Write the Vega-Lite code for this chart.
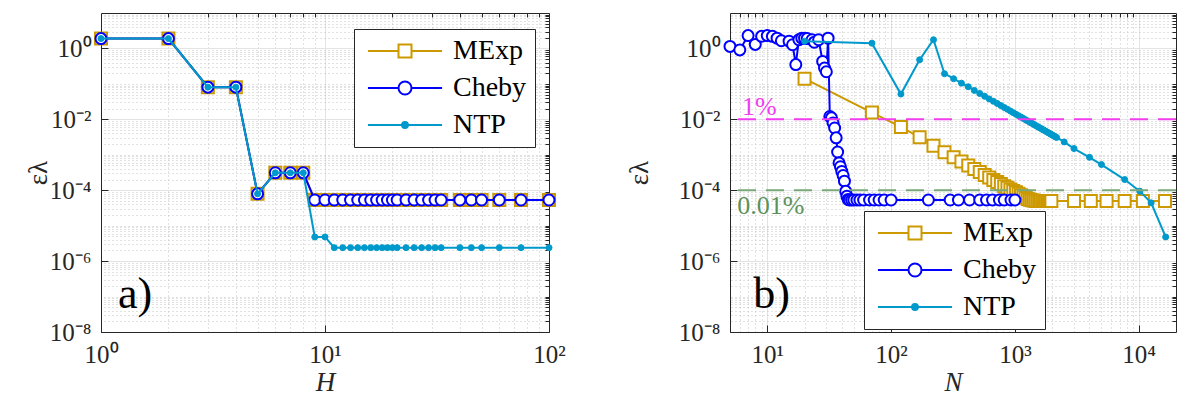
{
  "$schema": "https://vega.github.io/schema/vega-lite/v6.json",
  "padding": {"left": 24, "top": 12, "right": 0, "bottom": 0},
  "background": "white",
  "spacing": 59,
  "resolve": {"scale": {"stroke": "independent"}, "legend": {"stroke": "independent"}},
  "config": {
    "font": "Liberation Serif",
    "view": {"stroke": null},
    "axis": {
      "domainColor": "#262626", "tickColor": "#262626", "labelColor": "#262626",
      "labelFont": "Liberation Serif", "labelFontSize": 25, "titleFont": "Liberation Serif",
      "titleFontWeight": "normal", "titleColor": "#262626", "titleFontSize": 27,
      "gridColor": "#e3e3e3", "gridWidth": 1, "domainWidth": 1, "labelFlush": false, "labelOverlap": false
    },
    "legend": {
      "labelFont": "Liberation Serif", "labelFontSize": 28, "labelColor": "#000000",
      "strokeColor": "#262626", "fillColor": "white", "cornerRadius": 0, "symbolFillColor": "white"
    }
  },
  "datasets": {
    "a": [
      {"s":"MExp","x":1,"y":1.9},{"s":"MExp","x":2,"y":1.9},{"s":"MExp","x":3,"y":0.081},{"s":"MExp","x":4,"y":0.081},{"s":"MExp","x":5,"y":7.9e-5},{"s":"MExp","x":6,"y":3.1e-4},{"s":"MExp","x":7,"y":3.1e-4},{"s":"MExp","x":8,"y":3.1e-4},{"s":"MExp","x":9,"y":5.3e-5},{"s":"MExp","x":10,"y":5.3e-5},{"s":"MExp","x":11,"y":5.3e-5},{"s":"MExp","x":12,"y":5.3e-5},{"s":"MExp","x":13,"y":5.3e-5},{"s":"MExp","x":14,"y":5.3e-5},{"s":"MExp","x":15,"y":5.3e-5},{"s":"MExp","x":16,"y":5.3e-5},{"s":"MExp","x":17,"y":5.3e-5},{"s":"MExp","x":18,"y":5.3e-5},{"s":"MExp","x":19,"y":5.3e-5},{"s":"MExp","x":20,"y":5.3e-5},{"s":"MExp","x":21,"y":5.3e-5},{"s":"MExp","x":23,"y":5.3e-5},{"s":"MExp","x":25,"y":5.3e-5},{"s":"MExp","x":27,"y":5.3e-5},{"s":"MExp","x":29,"y":5.3e-5},{"s":"MExp","x":31,"y":5.3e-5},{"s":"MExp","x":33,"y":5.3e-5},{"s":"MExp","x":40,"y":5.3e-5},{"s":"MExp","x":45,"y":5.3e-5},{"s":"MExp","x":50,"y":5.3e-5},{"s":"MExp","x":60,"y":5.3e-5},{"s":"MExp","x":75,"y":5.3e-5},{"s":"MExp","x":100,"y":5.3e-5},
      {"s":"Cheby","x":1,"y":1.9},{"s":"Cheby","x":2,"y":1.9},{"s":"Cheby","x":3,"y":0.081},{"s":"Cheby","x":4,"y":0.081},{"s":"Cheby","x":5,"y":7.9e-5},{"s":"Cheby","x":6,"y":3.1e-4},{"s":"Cheby","x":7,"y":3.1e-4},{"s":"Cheby","x":8,"y":3.1e-4},{"s":"Cheby","x":9,"y":5.3e-5},{"s":"Cheby","x":10,"y":5.3e-5},{"s":"Cheby","x":11,"y":5.3e-5},{"s":"Cheby","x":12,"y":5.3e-5},{"s":"Cheby","x":13,"y":5.3e-5},{"s":"Cheby","x":14,"y":5.3e-5},{"s":"Cheby","x":15,"y":5.3e-5},{"s":"Cheby","x":16,"y":5.3e-5},{"s":"Cheby","x":17,"y":5.3e-5},{"s":"Cheby","x":18,"y":5.3e-5},{"s":"Cheby","x":19,"y":5.3e-5},{"s":"Cheby","x":20,"y":5.3e-5},{"s":"Cheby","x":21,"y":5.3e-5},{"s":"Cheby","x":23,"y":5.3e-5},{"s":"Cheby","x":25,"y":5.3e-5},{"s":"Cheby","x":27,"y":5.3e-5},{"s":"Cheby","x":29,"y":5.3e-5},{"s":"Cheby","x":31,"y":5.3e-5},{"s":"Cheby","x":33,"y":5.3e-5},{"s":"Cheby","x":40,"y":5.3e-5},{"s":"Cheby","x":45,"y":5.3e-5},{"s":"Cheby","x":50,"y":5.3e-5},{"s":"Cheby","x":60,"y":5.3e-5},{"s":"Cheby","x":75,"y":5.3e-5},{"s":"Cheby","x":100,"y":5.3e-5},
      {"s":"NTP","x":1,"y":1.9},{"s":"NTP","x":2,"y":1.9},{"s":"NTP","x":3,"y":0.081},{"s":"NTP","x":4,"y":0.081},{"s":"NTP","x":5,"y":7.9e-5},{"s":"NTP","x":6,"y":3.1e-4},{"s":"NTP","x":7,"y":3.1e-4},{"s":"NTP","x":8,"y":3.1e-4},{"s":"NTP","x":9,"y":4.8e-6},{"s":"NTP","x":10,"y":4.8e-6},{"s":"NTP","x":11,"y":2.4e-6},{"s":"NTP","x":12,"y":2.4e-6},{"s":"NTP","x":13,"y":2.4e-6},{"s":"NTP","x":14,"y":2.4e-6},{"s":"NTP","x":15,"y":2.4e-6},{"s":"NTP","x":16,"y":2.4e-6},{"s":"NTP","x":17,"y":2.4e-6},{"s":"NTP","x":18,"y":2.4e-6},{"s":"NTP","x":19,"y":2.4e-6},{"s":"NTP","x":20,"y":2.4e-6},{"s":"NTP","x":21,"y":2.4e-6},{"s":"NTP","x":23,"y":2.4e-6},{"s":"NTP","x":25,"y":2.4e-6},{"s":"NTP","x":27,"y":2.4e-6},{"s":"NTP","x":29,"y":2.4e-6},{"s":"NTP","x":31,"y":2.4e-6},{"s":"NTP","x":33,"y":2.4e-6},{"s":"NTP","x":40,"y":2.4e-6},{"s":"NTP","x":45,"y":2.4e-6},{"s":"NTP","x":50,"y":2.4e-6},{"s":"NTP","x":60,"y":2.4e-6},{"s":"NTP","x":75,"y":2.4e-6},{"s":"NTP","x":100,"y":2.4e-6}
    ],
    "b": [
      {"s":"MExp","x":20,"y":0.14},{"s":"MExp","x":70,"y":0.0155},{"s":"MExp","x":120,"y":0.0061},{"s":"MExp","x":170,"y":0.0031},{"s":"MExp","x":220,"y":0.0018},{"s":"MExp","x":270,"y":0.00118},{"s":"MExp","x":320,"y":0.00085},{"s":"MExp","x":370,"y":0.00065},{"s":"MExp","x":420,"y":0.0005},{"s":"MExp","x":470,"y":0.0004},{"s":"MExp","x":520,"y":0.000325},{"s":"MExp","x":570,"y":0.00027},{"s":"MExp","x":620,"y":0.00023},{"s":"MExp","x":670,"y":0.000195},{"s":"MExp","x":720,"y":0.00017},{"s":"MExp","x":770,"y":0.00015},{"s":"MExp","x":820,"y":0.00013},{"s":"MExp","x":870,"y":0.000117},{"s":"MExp","x":920,"y":0.000105},{"s":"MExp","x":970,"y":0.000095},{"s":"MExp","x":1020,"y":0.000087},{"s":"MExp","x":1070,"y":0.000079},{"s":"MExp","x":1120,"y":0.000072},{"s":"MExp","x":1170,"y":0.000066},{"s":"MExp","x":1220,"y":0.000061},{"s":"MExp","x":1270,"y":0.000057},{"s":"MExp","x":1320,"y":0.000054},{"s":"MExp","x":1370,"y":0.000052},{"s":"MExp","x":1420,"y":0.000051},{"s":"MExp","x":1470,"y":0.00005},{"s":"MExp","x":1520,"y":0.00005},{"s":"MExp","x":1570,"y":0.00005},{"s":"MExp","x":1620,"y":0.00005},{"s":"MExp","x":1670,"y":0.00005},{"s":"MExp","x":1720,"y":0.00005},{"s":"MExp","x":1770,"y":0.00005},{"s":"MExp","x":1820,"y":0.00005},{"s":"MExp","x":1870,"y":0.00005},{"s":"MExp","x":1920,"y":0.00005},{"s":"MExp","x":1970,"y":0.00005},{"s":"MExp","x":3000,"y":0.00005},{"s":"MExp","x":4100,"y":0.00005},{"s":"MExp","x":5500,"y":0.00005},{"s":"MExp","x":7700,"y":0.00005},{"s":"MExp","x":10800,"y":0.00005},{"s":"MExp","x":16300,"y":0.00005},
      {"s":"Cheby","x":5,"y":1.14},{"s":"Cheby","x":6,"y":0.91},{"s":"Cheby","x":7,"y":2.3},{"s":"Cheby","x":8,"y":1.3},{"s":"Cheby","x":9,"y":2.2},{"s":"Cheby","x":10,"y":2.3},{"s":"Cheby","x":11,"y":2.2},{"s":"Cheby","x":12,"y":1.95},{"s":"Cheby","x":13,"y":1.65},{"s":"Cheby","x":15,"y":1.6},{"s":"Cheby","x":16,"y":1.27},{"s":"Cheby","x":17,"y":0.35},{"s":"Cheby","x":18,"y":1.76},{"s":"Cheby","x":19,"y":1.95},{"s":"Cheby","x":20,"y":1.95},{"s":"Cheby","x":21,"y":1.9},{"s":"Cheby","x":23,"y":1.76},{"s":"Cheby","x":24,"y":1.5},{"s":"Cheby","x":26,"y":1.76},{"s":"Cheby","x":28,"y":0.43},{"s":"Cheby","x":29,"y":0.28},{"s":"Cheby","x":30,"y":0.22},{"s":"Cheby","x":31,"y":1.95},{"s":"Cheby","x":32,"y":0.012},{"s":"Cheby","x":33,"y":0.011},{"s":"Cheby","x":34,"y":0.0079},{"s":"Cheby","x":35,"y":0.0057},{"s":"Cheby","x":36,"y":0.003},{"s":"Cheby","x":37,"y":0.0012},{"s":"Cheby","x":38,"y":0.00059},{"s":"Cheby","x":39,"y":0.00046},{"s":"Cheby","x":40,"y":0.00034},{"s":"Cheby","x":41,"y":0.00026},{"s":"Cheby","x":42,"y":0.00018},{"s":"Cheby","x":43,"y":0.000093},{"s":"Cheby","x":44,"y":0.000068},{"s":"Cheby","x":45,"y":0.000055},{"s":"Cheby","x":46,"y":0.000053},{"s":"Cheby","x":48,"y":0.000053},{"s":"Cheby","x":50,"y":0.000053},{"s":"Cheby","x":53,"y":0.000053},{"s":"Cheby","x":56,"y":0.000053},{"s":"Cheby","x":60,"y":0.000053},{"s":"Cheby","x":67,"y":0.000053},{"s":"Cheby","x":73,"y":0.000053},{"s":"Cheby","x":80,"y":0.000053},{"s":"Cheby","x":88,"y":0.000053},{"s":"Cheby","x":100,"y":0.000053},{"s":"Cheby","x":200,"y":0.000053},{"s":"Cheby","x":300,"y":0.000053},{"s":"Cheby","x":350,"y":0.000053},{"s":"Cheby","x":430,"y":0.000053},{"s":"Cheby","x":520,"y":0.000053},{"s":"Cheby","x":590,"y":0.000053},{"s":"Cheby","x":660,"y":0.000053},{"s":"Cheby","x":750,"y":0.000053},{"s":"Cheby","x":820,"y":0.000053},{"s":"Cheby","x":930,"y":0.000053},{"s":"Cheby","x":1000,"y":0.000053},
      {"s":"NTP","x":20,"y":1.6},{"s":"NTP","x":70,"y":1.41},{"s":"NTP","x":120,"y":0.0516},{"s":"NTP","x":170,"y":0.48},{"s":"NTP","x":220,"y":1.76},{"s":"NTP","x":270,"y":0.194},{"s":"NTP","x":320,"y":0.14},{"s":"NTP","x":370,"y":0.105},{"s":"NTP","x":420,"y":0.083},{"s":"NTP","x":470,"y":0.0656},{"s":"NTP","x":520,"y":0.0536},{"s":"NTP","x":570,"y":0.0446},{"s":"NTP","x":620,"y":0.0377},{"s":"NTP","x":670,"y":0.0323},{"s":"NTP","x":720,"y":0.028},{"s":"NTP","x":770,"y":0.0245},{"s":"NTP","x":820,"y":0.0216},{"s":"NTP","x":870,"y":0.0192},{"s":"NTP","x":920,"y":0.0171},{"s":"NTP","x":970,"y":0.0154},{"s":"NTP","x":1020,"y":0.0139},{"s":"NTP","x":1070,"y":0.0127},{"s":"NTP","x":1120,"y":0.0116},{"s":"NTP","x":1170,"y":0.0106},{"s":"NTP","x":1220,"y":0.00974},{"s":"NTP","x":1270,"y":0.00899},{"s":"NTP","x":1320,"y":0.00832},{"s":"NTP","x":1370,"y":0.00773},{"s":"NTP","x":1420,"y":0.00719},{"s":"NTP","x":1470,"y":0.00671},{"s":"NTP","x":1520,"y":0.00628},{"s":"NTP","x":1570,"y":0.00588},{"s":"NTP","x":1620,"y":0.00553},{"s":"NTP","x":1670,"y":0.0052},{"s":"NTP","x":1720,"y":0.0049},{"s":"NTP","x":1770,"y":0.00463},{"s":"NTP","x":1820,"y":0.00438},{"s":"NTP","x":1870,"y":0.00415},{"s":"NTP","x":1920,"y":0.00393},{"s":"NTP","x":1970,"y":0.00374},{"s":"NTP","x":2020,"y":0.00355},{"s":"NTP","x":2070,"y":0.00338},{"s":"NTP","x":2120,"y":0.00323},{"s":"NTP","x":2170,"y":0.00308},{"s":"NTP","x":2500,"y":0.0023},{"s":"NTP","x":3000,"y":0.0015},{"s":"NTP","x":4000,"y":0.00085},{"s":"NTP","x":5000,"y":0.00053},{"s":"NTP","x":7700,"y":0.0002},{"s":"NTP","x":10200,"y":0.000094},{"s":"NTP","x":12600,"y":0.000044},{"s":"NTP","x":16500,"y":0.0000048}
    ]
  },
  "hconcat": [
    {
      "width": 448, "height": 319,
      "data": {"name": "a"},
      "resolve": {"axis": {"x": "independent", "y": "independent"}},
      "layer": [
        {
          "transform": [{"filter": "datum.s === 'MExp'"}],
          "mark": {"type": "line", "strokeWidth": 2, "clip": false},
          "encoding": {
            "x": {"field": "x", "type": "quantitative", "scale": {"type": "log", "domain": [1, 100], "nice": false},
              "axis": {"orient": "bottom", "values": [1, 10, 100], "labelExpr": "'10' + (datum.value < 1 ? '⁻' : '') + substring('⁰¹²³⁴⁵⁶⁷⁸⁹', abs(round(log(datum.value) / LN10)), abs(round(log(datum.value) / LN10)) + 1)", "labelFont": "Liberation Serif", "labelFontSize": 25, "labelColor": "#262626", "grid": true, "tickSize": -7, "labelPadding": 17, "title": "H", "titleFontStyle": "italic", "titlePadding": 2}},
            "y": {"field": "y", "type": "quantitative", "scale": {"type": "log", "domain": [1e-8, 10], "nice": false},
              "axis": {"orient": "left", "values": [1e-8, 1e-6, 1e-4, 0.01, 1], "labelExpr": "'10' + (datum.value < 1 ? '⁻' : '') + substring('⁰¹²³⁴⁵⁶⁷⁸⁹', abs(round(log(datum.value) / LN10)), abs(round(log(datum.value) / LN10)) + 1)", "labelFont": "Liberation Serif", "labelFontSize": 25, "labelColor": "#262626", "grid": true, "tickSize": -7, "labelPadding": 17, "title": "ελ", "titleX": -63, "titleY": 159.5, "titleBaseline": "middle", "titleAlign": "center"}},
            "stroke": {"field": "s", "type": "nominal", "scale": {"domain": ["MExp", "Cheby", "NTP"], "range": ["#cc9900", "#0000ff", "#0099cc"]},
              "legend": {"orient": "none", "legendX": 253, "legendY": 16, "title": null, "padding": 8, "rowPadding": 9, "symbolSize": 169, "symbolStrokeWidth": 2, "symbolFillColor": "white", "symbolOffset": 29, "labelOffset": 34,
                "encode": {"symbols": {"update": {
                  "shape": {"signal": "datum.value === 'MExp' ? 'M-5.7,0H-1M1,0H5.7M-1,-1H1V1H-1Z' : datum.value === 'Cheby' ? 'M-5.7,0H-1M1,0H5.7M1,0A1,1,0,1,1,-1,0A1,1,0,1,1,1,0Z' : 'M-5.7,0H5.7M0.45,0A0.45,0.45,0,1,1,-0.45,0A0.45,0.45,0,1,1,0.45,0ZM0.2,0A0.2,0.2,0,1,1,-0.2,0A0.2,0.2,0,1,1,0.2,0Z'"},
                  "opacity": {"value": 1}}}}}}
          }
        },
        {
          "transform": [{"filter": "datum.s === 'MExp'"}],
          "mark": {"type": "point", "shape": "square", "size": 144, "filled": false, "fill": "white", "strokeWidth": 2, "opacity": 1, "clip": false},
          "encoding": {
            "x": {"field": "x", "type": "quantitative", "scale": {"type": "log", "domain": [1, 100], "nice": false},
              "axis": {"orient": "top", "values": [2,3,4,5,6,7,8,9,20,30,40,50,60,70,80,90], "labels": false, "grid": true, "gridDash": [1, 3], "gridColor": "#c4c4c4", "tickSize": -4, "title": null}},
            "y": {"field": "y", "type": "quantitative", "scale": {"type": "log", "domain": [1e-8, 10], "nice": false},
              "axis": {"orient": "right", "values": [2e-8,3e-8,4e-8,5e-8,6e-8,7e-8,8e-8,9e-8,1e-7,2e-7,3e-7,4e-7,5e-7,6e-7,7e-7,8e-7,9e-7,2e-6,3e-6,4e-6,5e-6,6e-6,7e-6,8e-6,9e-6,1e-5,2e-5,3e-5,4e-5,5e-5,6e-5,7e-5,8e-5,9e-5,2e-4,3e-4,4e-4,5e-4,6e-4,7e-4,8e-4,9e-4,0.001,0.002,0.003,0.004,0.005,0.006,0.007,0.008,0.009,0.02,0.03,0.04,0.05,0.06,0.07,0.08,0.09,0.1,0.2,0.3,0.4,0.5,0.6,0.7,0.8,0.9,2,3,4,5,6,7,8,9], "labels": false, "grid": true, "gridDash": [1, 3], "gridColor": "#c4c4c4", "tickSize": -4, "title": null}},
            "stroke": {"field": "s", "type": "nominal", "scale": {"domain": ["MExp", "Cheby", "NTP"], "range": ["#cc9900", "#0000ff", "#0099cc"]}, "legend": null}
          }
        },
        {
          "transform": [{"filter": "datum.s === 'Cheby'"}],
          "mark": {"type": "line", "strokeWidth": 2, "clip": false},
          "encoding": {
            "x": {"field": "x", "type": "quantitative", "scale": {"type": "log", "domain": [1, 100], "nice": false}, "axis": null},
            "y": {"field": "y", "type": "quantitative", "scale": {"type": "log", "domain": [1e-8, 10], "nice": false}, "axis": null},
            "stroke": {"field": "s", "type": "nominal", "scale": {"domain": ["MExp", "Cheby", "NTP"], "range": ["#cc9900", "#0000ff", "#0099cc"]}, "legend": null}
          }
        },
        {
          "transform": [{"filter": "datum.s === 'Cheby'"}],
          "mark": {"type": "point", "shape": "circle", "size": 121, "filled": false, "fill": "white", "strokeWidth": 2, "opacity": 1, "clip": false},
          "encoding": {
            "x": {"field": "x", "type": "quantitative", "scale": {"type": "log", "domain": [1, 100], "nice": false}, "axis": null},
            "y": {"field": "y", "type": "quantitative", "scale": {"type": "log", "domain": [1e-8, 10], "nice": false}, "axis": null},
            "stroke": {"field": "s", "type": "nominal", "scale": {"domain": ["MExp", "Cheby", "NTP"], "range": ["#cc9900", "#0000ff", "#0099cc"]}, "legend": null}
          }
        },
        {
          "transform": [{"filter": "datum.s === 'NTP'"}],
          "mark": {"type": "line", "strokeWidth": 2, "clip": false},
          "encoding": {
            "x": {"field": "x", "type": "quantitative", "scale": {"type": "log", "domain": [1, 100], "nice": false}, "axis": null},
            "y": {"field": "y", "type": "quantitative", "scale": {"type": "log", "domain": [1e-8, 10], "nice": false}, "axis": null},
            "stroke": {"field": "s", "type": "nominal", "scale": {"domain": ["MExp", "Cheby", "NTP"], "range": ["#cc9900", "#0000ff", "#0099cc"]}, "legend": null}
          }
        },
        {
          "transform": [{"filter": "datum.s === 'NTP'"}],
          "mark": {"type": "point", "shape": "circle", "size": 36, "filled": true, "fill": "#0099cc", "strokeWidth": 1, "opacity": 1, "clip": false},
          "encoding": {
            "x": {"field": "x", "type": "quantitative", "scale": {"type": "log", "domain": [1, 100], "nice": false}, "axis": null},
            "y": {"field": "y", "type": "quantitative", "scale": {"type": "log", "domain": [1e-8, 10], "nice": false}, "axis": null},
            "stroke": {"field": "s", "type": "nominal", "scale": {"domain": ["MExp", "Cheby", "NTP"], "range": ["#cc9900", "#0000ff", "#0099cc"]}, "legend": null}
          }
        },
        {
          "data": {"values": [{}]},
          "mark": {"type": "text", "text": "a)", "fontSize": 44, "font": "Liberation Serif", "align": "left", "baseline": "alphabetic", "color": "#000000"},
          "encoding": {
            "x": {"datum": 1.19, "type": "quantitative", "scale": {"type": "log", "domain": [1, 100], "nice": false}, "axis": null},
            "y": {"datum": 4.8e-8, "type": "quantitative", "scale": {"type": "log", "domain": [1e-8, 10], "nice": false}, "axis": null}
          }
        }
      ]
    },
    {
      "width": 446, "height": 319,
      "data": {"name": "b"},
      "resolve": {"axis": {"x": "independent", "y": "independent"}},
      "layer": [
        {
          "transform": [{"filter": "datum.s === 'MExp'"}],
          "mark": {"type": "line", "strokeWidth": 2, "clip": false},
          "encoding": {
            "x": {"field": "x", "type": "quantitative", "scale": {"type": "log", "domain": [5, 20000], "nice": false},
              "axis": {"orient": "bottom", "values": [10, 100, 1000, 10000], "labelExpr": "'10' + (datum.value < 1 ? '⁻' : '') + substring('⁰¹²³⁴⁵⁶⁷⁸⁹', abs(round(log(datum.value) / LN10)), abs(round(log(datum.value) / LN10)) + 1)", "labelFont": "Liberation Serif", "labelFontSize": 25, "labelColor": "#262626", "grid": true, "tickSize": -7, "labelPadding": 17, "title": "N", "titleFontStyle": "italic", "titlePadding": 2}},
            "y": {"field": "y", "type": "quantitative", "scale": {"type": "log", "domain": [1e-8, 10], "nice": false},
              "axis": {"orient": "left", "values": [1e-8, 1e-6, 1e-4, 0.01, 1], "labelExpr": "'10' + (datum.value < 1 ? '⁻' : '') + substring('⁰¹²³⁴⁵⁶⁷⁸⁹', abs(round(log(datum.value) / LN10)), abs(round(log(datum.value) / LN10)) + 1)", "labelFont": "Liberation Serif", "labelFontSize": 25, "labelColor": "#262626", "grid": true, "tickSize": -7, "labelPadding": 17, "title": "ελ", "titleX": -91, "titleY": 159.5, "titleBaseline": "middle", "titleAlign": "center"}},
            "stroke": {"field": "s", "type": "nominal", "scale": {"domain": ["MExp", "Cheby", "NTP"], "range": ["#cc9900", "#0000ff", "#0099cc"]},
              "legend": {"orient": "none", "legendX": 134, "legendY": 198, "title": null, "padding": 8, "rowPadding": 9, "symbolSize": 169, "symbolStrokeWidth": 2, "symbolFillColor": "white", "symbolOffset": 29, "labelOffset": 34,
                "encode": {"symbols": {"update": {
                  "shape": {"signal": "datum.value === 'MExp' ? 'M-5.7,0H-1M1,0H5.7M-1,-1H1V1H-1Z' : datum.value === 'Cheby' ? 'M-5.7,0H-1M1,0H5.7M1,0A1,1,0,1,1,-1,0A1,1,0,1,1,1,0Z' : 'M-5.7,0H5.7M0.45,0A0.45,0.45,0,1,1,-0.45,0A0.45,0.45,0,1,1,0.45,0ZM0.2,0A0.2,0.2,0,1,1,-0.2,0A0.2,0.2,0,1,1,0.2,0Z'"},
                  "opacity": {"value": 1}}}}}}
          }
        },
        {
          "transform": [{"filter": "datum.s === 'MExp'"}],
          "mark": {"type": "point", "shape": "square", "size": 144, "filled": false, "fill": "white", "strokeWidth": 2, "opacity": 1, "clip": false},
          "encoding": {
            "x": {"field": "x", "type": "quantitative", "scale": {"type": "log", "domain": [5, 20000], "nice": false},
              "axis": {"orient": "top", "values": [6,7,8,9,20,30,40,50,60,70,80,90,200,300,400,500,600,700,800,900,2000,3000,4000,5000,6000,7000,8000,9000], "labels": false, "grid": true, "gridDash": [1, 3], "gridColor": "#c4c4c4", "tickSize": -4, "title": null}},
            "y": {"field": "y", "type": "quantitative", "scale": {"type": "log", "domain": [1e-8, 10], "nice": false},
              "axis": {"orient": "right", "values": [2e-8,3e-8,4e-8,5e-8,6e-8,7e-8,8e-8,9e-8,1e-7,2e-7,3e-7,4e-7,5e-7,6e-7,7e-7,8e-7,9e-7,2e-6,3e-6,4e-6,5e-6,6e-6,7e-6,8e-6,9e-6,1e-5,2e-5,3e-5,4e-5,5e-5,6e-5,7e-5,8e-5,9e-5,2e-4,3e-4,4e-4,5e-4,6e-4,7e-4,8e-4,9e-4,0.001,0.002,0.003,0.004,0.005,0.006,0.007,0.008,0.009,0.02,0.03,0.04,0.05,0.06,0.07,0.08,0.09,0.1,0.2,0.3,0.4,0.5,0.6,0.7,0.8,0.9,2,3,4,5,6,7,8,9], "labels": false, "grid": true, "gridDash": [1, 3], "gridColor": "#c4c4c4", "tickSize": -4, "title": null}},
            "stroke": {"field": "s", "type": "nominal", "scale": {"domain": ["MExp", "Cheby", "NTP"], "range": ["#cc9900", "#0000ff", "#0099cc"]}, "legend": null}
          }
        },
        {
          "transform": [{"filter": "datum.s === 'Cheby'"}],
          "mark": {"type": "line", "strokeWidth": 2, "clip": false},
          "encoding": {
            "x": {"field": "x", "type": "quantitative", "scale": {"type": "log", "domain": [5, 20000], "nice": false}, "axis": null},
            "y": {"field": "y", "type": "quantitative", "scale": {"type": "log", "domain": [1e-8, 10], "nice": false}, "axis": null},
            "stroke": {"field": "s", "type": "nominal", "scale": {"domain": ["MExp", "Cheby", "NTP"], "range": ["#cc9900", "#0000ff", "#0099cc"]}, "legend": null}
          }
        },
        {
          "transform": [{"filter": "datum.s === 'Cheby'"}],
          "mark": {"type": "point", "shape": "circle", "size": 121, "filled": false, "fill": "white", "strokeWidth": 2, "opacity": 1, "clip": false},
          "encoding": {
            "x": {"field": "x", "type": "quantitative", "scale": {"type": "log", "domain": [5, 20000], "nice": false}, "axis": null},
            "y": {"field": "y", "type": "quantitative", "scale": {"type": "log", "domain": [1e-8, 10], "nice": false}, "axis": null},
            "stroke": {"field": "s", "type": "nominal", "scale": {"domain": ["MExp", "Cheby", "NTP"], "range": ["#cc9900", "#0000ff", "#0099cc"]}, "legend": null}
          }
        },
        {
          "transform": [{"filter": "datum.s === 'NTP'"}],
          "mark": {"type": "line", "strokeWidth": 2, "clip": false},
          "encoding": {
            "x": {"field": "x", "type": "quantitative", "scale": {"type": "log", "domain": [5, 20000], "nice": false}, "axis": null},
            "y": {"field": "y", "type": "quantitative", "scale": {"type": "log", "domain": [1e-8, 10], "nice": false}, "axis": null},
            "stroke": {"field": "s", "type": "nominal", "scale": {"domain": ["MExp", "Cheby", "NTP"], "range": ["#cc9900", "#0000ff", "#0099cc"]}, "legend": null}
          }
        },
        {
          "transform": [{"filter": "datum.s === 'NTP'"}],
          "mark": {"type": "point", "shape": "circle", "size": 36, "filled": true, "fill": "#0099cc", "strokeWidth": 1, "opacity": 1, "clip": false},
          "encoding": {
            "x": {"field": "x", "type": "quantitative", "scale": {"type": "log", "domain": [5, 20000], "nice": false}, "axis": null},
            "y": {"field": "y", "type": "quantitative", "scale": {"type": "log", "domain": [1e-8, 10], "nice": false}, "axis": null},
            "stroke": {"field": "s", "type": "nominal", "scale": {"domain": ["MExp", "Cheby", "NTP"], "range": ["#cc9900", "#0000ff", "#0099cc"]}, "legend": null}
          }
        },
        {
          "data": {"values": [{}]},
          "mark": {"type": "rule", "strokeWidth": 2, "strokeDash": [18, 10], "color": "#f23cf0"},
          "encoding": {
            "y": {"datum": 0.01, "type": "quantitative", "scale": {"type": "log", "domain": [1e-8, 10], "nice": false}, "axis": null}
          }
        },
        {
          "data": {"values": [{}]},
          "mark": {"type": "rule", "strokeWidth": 2, "strokeDash": [18, 10], "color": "#7aa87a"},
          "encoding": {
            "y": {"datum": 0.0001, "type": "quantitative", "scale": {"type": "log", "domain": [1e-8, 10], "nice": false}, "axis": null}
          }
        },
        {
          "data": {"values": [{}]},
          "mark": {"type": "text", "text": "1%", "fontSize": 26, "font": "Liberation Serif", "align": "left", "baseline": "alphabetic", "color": "#f23cf0"},
          "encoding": {
            "x": {"datum": 6.24, "type": "quantitative", "scale": {"type": "log", "domain": [5, 20000], "nice": false}, "axis": null},
            "y": {"datum": 0.01355, "type": "quantitative", "scale": {"type": "log", "domain": [1e-8, 10], "nice": false}, "axis": null}
          }
        },
        {
          "data": {"values": [{}]},
          "mark": {"type": "text", "text": "0.01%", "fontSize": 26, "font": "Liberation Serif", "align": "left", "baseline": "alphabetic", "color": "#5a925a"},
          "encoding": {
            "x": {"datum": 5.72, "type": "quantitative", "scale": {"type": "log", "domain": [5, 20000], "nice": false}, "axis": null},
            "y": {"datum": 2.1e-5, "type": "quantitative", "scale": {"type": "log", "domain": [1e-8, 10], "nice": false}, "axis": null}
          }
        },
        {
          "data": {"values": [{}]},
          "mark": {"type": "text", "text": "b)", "fontSize": 44, "font": "Liberation Serif", "align": "left", "baseline": "alphabetic", "color": "#000000"},
          "encoding": {
            "x": {"datum": 7.7, "type": "quantitative", "scale": {"type": "log", "domain": [5, 20000], "nice": false}, "axis": null},
            "y": {"datum": 4.8e-8, "type": "quantitative", "scale": {"type": "log", "domain": [1e-8, 10], "nice": false}, "axis": null}
          }
        }
      ]
    }
  ]
}
